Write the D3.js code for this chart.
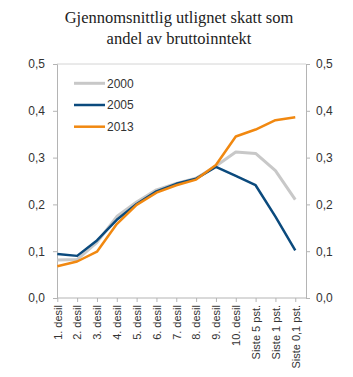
<!DOCTYPE html>
<html>
<head>
<meta charset="utf-8">
<script src="https://cdn.jsdelivr.net/npm/d3@7"></script>
<style>
  body { margin: 0; background: #fff; }
  svg { display: block; }
  .axis text { font-family: "Liberation Sans", Arial, sans-serif; font-size: 11px; fill: #333; }
  .yaxis text { font-size: 12px; }
</style>
</head>
<body>
<div class="main"></div>
<script>

const categories = ["1. desil", "2. desil", "3. desil", "4. desil", "5. desil", "6. desil",
  "7. desil", "8. desil", "9. desil", "10. desil", "Siste 5 pst.", "Siste 1 pst.", "Siste 0,1 pst."];

const values2000 = [0.081, 0.082, 0.119, 0.174, 0.205, 0.231, 0.245, 0.256, 0.282, 0.312, 0.309, 0.272, 0.210];
const values2005 = [0.094, 0.090, 0.123, 0.167, 0.201, 0.228, 0.244, 0.255, 0.280, 0.261, 0.241, 0.174, 0.102];
const values2013 = [0.068, 0.078, 0.099, 0.158, 0.199, 0.225, 0.241, 0.253, 0.284, 0.345, 0.360, 0.380, 0.386];

const yTicks = [0, 0.1, 0.2, 0.3, 0.4, 0.5];

const series = [
  { name: "2000", values: values2000, color: "#c8c8c8", width: 3 },
  { name: "2005", values: values2005, color: "#0b4a7d", width: 2.5 },
  { name: "2013", values: values2013, color: "#f18810", width: 2.5 }
];

////////////
// CANVAS //
////////////

const w = 353;
const h = 377;
const plot = { left: 57, right: 306, top: 64, bottom: 298 };

const svg = d3.select(".main")
  .append("svg")
  .attr("width", w)
  .attr("height", h);

svg.append("text")
  .attr("x", 179)
  .attr("y", 22.5)
  .attr("text-anchor", "middle")
  .style("font-family", "'Liberation Serif', 'Times New Roman', serif")
  .style("font-size", "16.5px")
  .style("fill", "#222")
  .text("Gjennomsnittlig utlignet skatt som");

svg.append("text")
  .attr("x", 179)
  .attr("y", 43.5)
  .attr("text-anchor", "middle")
  .style("font-family", "'Liberation Serif', 'Times New Roman', serif")
  .style("font-size", "16.5px")
  .style("fill", "#222")
  .text("andel av bruttoinntekt");

////////////
// SCALES //
////////////

const step = 19.83;
const xScale = d3.scaleLinear()
  .domain([0, categories.length - 1])
  .range([plot.left + 0.3, plot.left + 0.3 + step * (categories.length - 1)]);

const yScale = d3.scaleLinear()
  .domain([0, 0.5])
  .range([plot.bottom, plot.top]);

const fmt = d => d3.format(".1f")(d).replace(".", ",");

///////////
// AXLES //
///////////

const axisColor = "#b4b4b4";

// top border
svg.append("line")
  .attr("x1", plot.left).attr("x2", plot.right)
  .attr("y1", plot.top).attr("y2", plot.top)
  .attr("stroke", "#d4d4d4");

const yLeft = svg.append("g")
  .attr("class", "axis yaxis")
  .attr("transform", `translate(${plot.left},0)`)
  .call(d3.axisLeft(yScale).tickValues(yTicks).tickFormat(fmt).tickSize(4).tickPadding(8));

const yRight = svg.append("g")
  .attr("class", "axis yaxis")
  .attr("transform", `translate(${plot.right},0)`)
  .call(d3.axisRight(yScale).tickValues(yTicks).tickFormat(fmt).tickSize(4).tickPadding(6));

const xAxis = svg.append("g")
  .attr("class", "axis")
  .attr("transform", `translate(0,${plot.bottom})`)
  .call(d3.axisBottom(xScale).tickValues(d3.range(categories.length))
    .tickFormat(i => categories[i]).tickSize(4).tickSizeOuter(0));

xAxis.select(".domain").attr("d", `M${plot.left},0H${plot.right}`);

xAxis.selectAll("text")
  .attr("transform", "rotate(-90)")
  .attr("text-anchor", "end")
  .attr("x", -7)
  .attr("y", 0)
  .attr("dy", "0.35em");

svg.selectAll(".axis .domain").attr("stroke", axisColor);
svg.selectAll(".axis .tick line").attr("stroke", axisColor);

///////////
// LINES //
///////////

const line = d3.line()
  .x((d, i) => xScale(i))
  .y(d => yScale(d));

svg.selectAll(".series")
  .data(series)
  .enter()
  .append("path")
  .attr("class", "series")
  .attr("d", d => line(d.values))
  .attr("fill", "none")
  .attr("stroke", d => d.color)
  .attr("stroke-width", d => d.width)
  .attr("stroke-linejoin", "round");

////////////
// LEGEND //
////////////

const legend = svg.selectAll(".legend")
  .data(series)
  .enter()
  .append("g")
  .attr("class", "legend")
  .attr("transform", (d, i) => `translate(74,${83.3 + i * 21.7})`);

legend.append("line")
  .attr("x1", 0).attr("x2", 31)
  .attr("stroke", d => d.color)
  .attr("stroke-width", d => d.width);

legend.append("text")
  .attr("x", 33)
  .attr("dy", "0.35em")
  .style("font-family", "'Liberation Sans', Arial, sans-serif")
  .style("font-size", "12px")
  .style("fill", "#333")
  .text(d => d.name);

</script>
</body>
</html>
